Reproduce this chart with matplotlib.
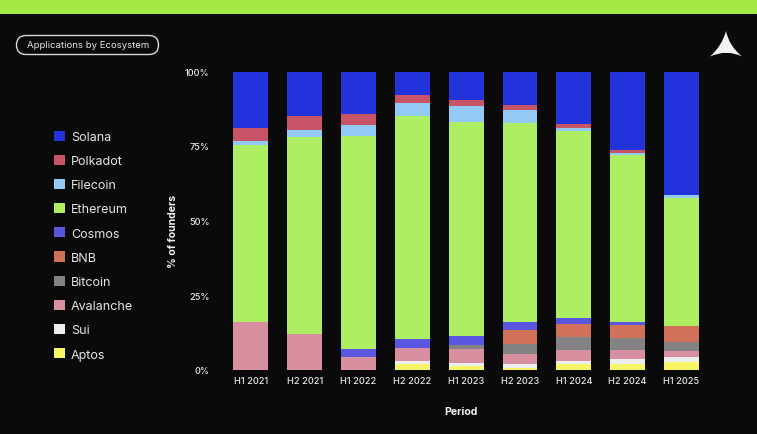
import matplotlib
matplotlib.use("Agg")
import matplotlib.pyplot as plt
import numpy as np
from matplotlib.patches import FancyBboxPatch, PathPatch, Patch, Rectangle
from matplotlib.path import Path

plt.rcParams['font.family'] = ['Inter', 'DejaVu Sans']

periods = ["H1 2021", "H2 2021", "H1 2022", "H2 2022", "H1 2023", "H2 2023", "H1 2024", "H2 2024", "H1 2025"]
yticks = [0, 25, 50, 75, 100]
ytick_labels = ["0%", "25%", "50%", "75%", "100%"]

aptos     = [0, 0, 0, 1.7, 1.2, 0.6, 1.7, 1.7, 2.4]
sui       = [0, 0, 0, 1.0, 1.0, 1.2, 1.3, 1.9, 1.8]
avalanche = [16.1, 12.0, 4.1, 4.5, 4.7, 3.4, 3.5, 2.9, 1.9]
bitcoin   = [0, 0, 0, 0, 1.4, 3.4, 4.5, 4.1, 3.2]
bnb       = [0, 0, 0, 0, 0, 4.8, 4.4, 4.2, 5.2]
cosmos    = [0, 0, 2.9, 2.9, 2.8, 2.6, 1.9, 1.3, 0.2]
ethereum  = [59.4, 66.0, 71.3, 75.1, 71.9, 66.8, 62.7, 56.0, 43.0]
filecoin  = [1.1, 2.5, 3.6, 4.3, 5.4, 4.4, 1.0, 0.6, 0.7]
polkadot  = [4.5, 4.5, 3.7, 2.5, 2.2, 1.7, 1.5, 1.1, 0.3]
solana    = [18.9, 15.0, 14.4, 8.0, 9.4, 11.1, 17.5, 26.2, 41.3]

stack = [
    ("Aptos", aptos, "#f6f667"),
    ("Sui", sui, "#eeeeee"),
    ("Avalanche", avalanche, "#d88fa0"),
    ("Bitcoin", bitcoin, "#838383"),
    ("BNB", bnb, "#d2715a"),
    ("Cosmos", cosmos, "#5a56e0"),
    ("Ethereum", ethereum, "#aeee62"),
    ("Filecoin", filecoin, "#93c9f5"),
    ("Polkadot", polkadot, "#c85468"),
    ("Solana", solana, "#2233dc"),
]

W, H = 757, 435
BG = "#0a0a0a"
fig = plt.figure(figsize=(W / 100, H / 100), dpi=100, facecolor=BG)

# pixel layout
ax_l, ax_r, ax_top, ax_bot = 220, 712, 72.5, 370.5
ax = fig.add_axes([ax_l / W, 1 - ax_bot / H, (ax_r - ax_l) / W, (ax_bot - ax_top) / H], facecolor=BG)
x0, dx = 250.8, 53.84
ax.set_xlim((ax_l - x0) / dx, (ax_r - x0) / dx)
ax.set_ylim(0, 100)

x = np.arange(len(periods))
bottom = np.zeros(len(periods))
for name, vals, col in stack:
    vals = np.array(vals, float)
    ax.bar(x, vals, width=0.65, bottom=bottom, color=col, linewidth=0)
    bottom += vals

ax.set_xticks(x)
ax.set_xticklabels(periods, fontsize=6.6, color="#e8e8e8", fontweight="medium")
ax.set_yticks(yticks)
ax.set_yticklabels(ytick_labels, fontsize=6.6, color="#e8e8e8", fontweight="medium")
ax.tick_params(axis="x", length=0, pad=4.5)
ax.tick_params(axis="y", length=0, pad=7.5)
for s in ax.spines.values():
    s.set_visible(False)


def fx(px):
    return px / W


def fy(py):
    return 1 - py / H


fig.text(fx(173), fy(231), "% of founders", rotation=90, color="#f0f0f0", fontsize=7.6, fontweight="bold", ha="center", va="center")
fig.text(fx(461), fy(412), "Period", color="#f0f0f0", fontsize=7.6, fontweight="bold", ha="center", va="center")

# top band
fig.add_artist(Rectangle((0, fy(15)), 1, 15 / H, transform=fig.transFigure, facecolor="#a3ea47", edgecolor="none"))

# title pill
overlay = fig.add_axes([0, 0, 1, 1], facecolor="none")
overlay.set_xlim(0, W)
overlay.set_ylim(H, 0)
overlay.axis("off")
overlay.add_patch(FancyBboxPatch((16.5, 36.5), 142, 19, boxstyle="round,pad=0,rounding_size=9.5",
                                 facecolor=BG, edgecolor="#d8d8d8", linewidth=1))
overlay.text(88.5, 46, "Applications by Ecosystem", color="#e8e8e8", fontsize=6.9, ha="center", va="center")

# logo
verts = [(726, 32), (729, 47), (742, 57.5), (727, 50), (710, 57.5), (722, 47), (726, 32)]
codes = [Path.MOVETO, Path.CURVE3, Path.CURVE3, Path.CURVE3, Path.CURVE3, Path.CURVE3, Path.CURVE3]
overlay.add_patch(PathPatch(Path(verts, codes), facecolor="#f2f2f2", edgecolor="none"))

# legend
handles = [Patch(facecolor=c, edgecolor="none", label=n) for n, _, c in stack[::-1]]
leg = fig.legend(handles=handles, loc="center left", bbox_to_anchor=(fx(54), fy(246.5)), frameon=False,
                 fontsize=9, labelcolor="#e6e6e6", handlelength=0.88, handleheight=0.88,
                 labelspacing=0.94, handletextpad=0.48, borderpad=0, borderaxespad=0)

fig.savefig("out.png", dpi=100, facecolor=BG)
